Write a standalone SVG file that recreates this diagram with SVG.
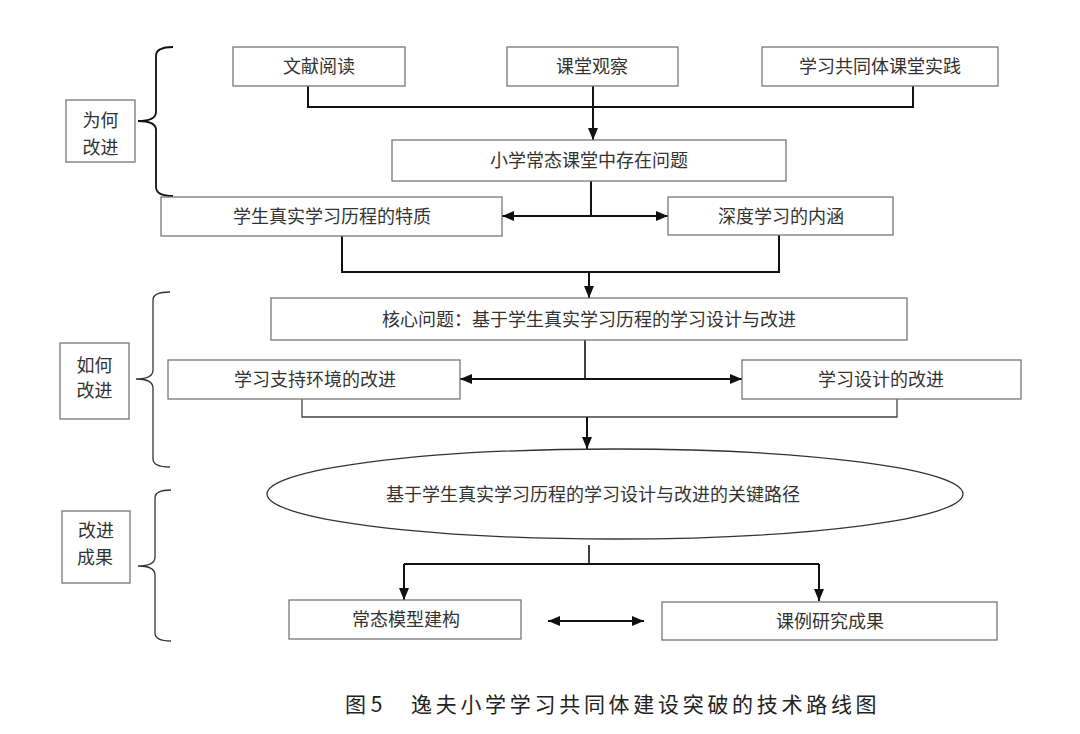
<svg xmlns="http://www.w3.org/2000/svg" width="1080" height="734" viewBox="0 0 1080 734">
<defs>
<style>
.box{fill:#fff;stroke:#777;stroke-width:1.3}
.t{font-family:"Liberation Serif","Noto Sans CJK SC",serif;font-size:18px;fill:#333;text-anchor:middle;dominant-baseline:central}
.c{fill:none;stroke:#111;stroke-width:2}
.thin{fill:none;stroke:#444;stroke-width:1.3}
.brace{fill:none;stroke:#111;stroke-width:1.8}
.cap{font-family:"Noto Sans CJK SC",sans-serif;font-size:21px;fill:#222;dominant-baseline:central}
</style>
<marker id="ah" markerWidth="12" markerHeight="10" refX="12" refY="5" orient="auto-start-reverse" markerUnits="userSpaceOnUse">
<path d="M0,0 L12,5 L0,10 Z" fill="#111"/>
</marker>
</defs>
<rect width="1080" height="734" fill="#fff"/>

<g id="braces">
<path class="brace" d="M173,47 Q156,47 156,56 V112 Q156,121 138,121 Q156,121 156,130 V187 Q156,196 173,196"/>
<path class="brace" d="M170,292 Q153,292 153,300 V370 Q153,379 136,379 Q153,379 153,388 V459 Q153,467 170,467" style="stroke-width:1.3;stroke:#333"/>
<path class="brace" d="M171,490 Q155,490 155,498 V557 Q155,566 138,566 Q155,566 155,575 V633 Q155,641 171,641" style="stroke-width:1.3;stroke:#333"/>
</g>

<g id="connectors">
<path class="c" d="M308,86 V107 H913 V86"/>
<path class="c" d="M593,86 V140" marker-end="url(#ah)"/>
<path class="c" d="M591,181 V216"/>
<path class="c" d="M502,216 H668" marker-start="url(#ah)" marker-end="url(#ah)"/>
<path class="c" d="M342,236 V272 H779 V235"/>
<path class="c" d="M589,272 V298" marker-end="url(#ah)"/>
<path class="thin" d="M585,340 V379" style="stroke-width:1.6;stroke:#111"/>
<path class="c" d="M460,379 H742" marker-start="url(#ah)" marker-end="url(#ah)"/>
<path class="thin" d="M302,399 V417 H897 V399"/>
<path class="c" d="M587,417 V449" marker-end="url(#ah)"/>
<path class="thin" d="M589,545 V564" style="stroke:#111;stroke-width:1.6"/>
<path class="c" d="M404,564 H819"/>
<path class="c" d="M404,564 V600" marker-end="url(#ah)"/>
<path class="c" d="M819,564 V601" marker-end="url(#ah)"/>
<path class="c" d="M548,621 H644" marker-start="url(#ah)" marker-end="url(#ah)"/>
</g>

<g id="n-why">
<rect class="box" x="66" y="100" width="69" height="62"/>
<text class="t" x="100.5" y="121">为何</text>
<text class="t" x="100.5" y="148">改进</text>
</g>
<g id="n-how">
<rect class="box" x="60" y="343" width="69" height="76"/>
<text class="t" x="94.5" y="366">如何</text>
<text class="t" x="94.5" y="391">改进</text>
</g>
<g id="n-result">
<rect class="box" x="62" y="511" width="68" height="72"/>
<text class="t" x="96" y="531">改进</text>
<text class="t" x="95" y="558">成果</text>
</g>

<g id="n-lit">
<rect class="box" x="233" y="47" width="172" height="39"/>
<text class="t" x="319" y="67">文献阅读</text>
</g>
<g id="n-obs">
<rect class="box" x="507" y="47" width="171" height="39"/>
<text class="t" x="592" y="67">课堂观察</text>
</g>
<g id="n-prac">
<rect class="box" x="762" y="47" width="236" height="39"/>
<text class="t" x="880" y="67">学习共同体课堂实践</text>
</g>
<g id="n-problem">
<rect class="box" x="392" y="140" width="394" height="41"/>
<text class="t" x="589" y="161">小学常态课堂中存在问题</text>
</g>
<g id="n-trait">
<rect class="box" x="161" y="197" width="341" height="39"/>
<text class="t" x="332" y="217">学生真实学习历程的特质</text>
</g>
<g id="n-deep">
<rect class="box" x="668" y="197" width="225" height="38"/>
<text class="t" x="781" y="217">深度学习的内涵</text>
</g>
<g id="n-core">
<rect class="box" x="271" y="298" width="636" height="42"/>
<text class="t" x="589" y="320">核心问题：基于学生真实学习历程的学习设计与改进</text>
</g>
<g id="n-env">
<rect class="box" x="168" y="360" width="292" height="39"/>
<text class="t" x="315" y="380">学习支持环境的改进</text>
</g>
<g id="n-design">
<rect class="box" x="742" y="360" width="279" height="39"/>
<text class="t" x="881" y="380">学习设计的改进</text>
</g>
<g id="n-path">
<ellipse cx="615" cy="494" rx="348" ry="45" fill="#fff" stroke="#333" stroke-width="1.3"/>
<text class="t" x="593" y="495">基于学生真实学习历程的学习设计与改进的关键路径</text>
</g>
<g id="n-model">
<rect class="box" x="289" y="600" width="232" height="39"/>
<text class="t" x="406" y="620">常态模型建构</text>
</g>
<g id="n-case">
<rect class="box" x="662" y="602" width="335" height="38"/>
<text class="t" x="830" y="622">课例研究成果</text>
</g>

<g id="caption">
<text class="cap" x="345" y="703">图 5</text>
<text class="cap" x="411" y="703" letter-spacing="3.7">逸夫小学学习共同体建设突破的技术路线图</text>
</g>
</svg>
